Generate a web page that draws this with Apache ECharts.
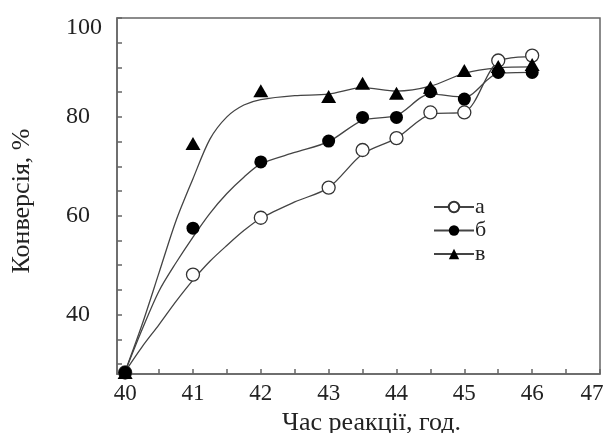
<!DOCTYPE html>
<html>
<head>
<meta charset="utf-8">
<script src="https://cdn.jsdelivr.net/npm/echarts@6/dist/echarts.min.js"></script>
<style>
html,body{margin:0;padding:0;background:#fff;}
#c{width:603px;height:433px;}
</style>
</head>
<body>
<div id="c"></div>
<script>
// measured points
const xPoints = [40, 41, 42, 43, 43.5, 44, 44.5, 45, 45.5, 46];
const seriesA = [28.3, 48.1, 59.6, 65.7, 73.3, 75.7, 80.9, 80.9, 91.4, 92.4];
const seriesB = [28.3, 57.5, 70.9, 75.1, 79.9, 79.9, 85.1, 83.6, 89.0, 89.0];
const seriesV = [28.3, 74.6, 85.3, 84.1, 86.8, 84.8, 86.0, 89.4, 90.2, 90.6];
// drawn curves
const curveX = [40, 40.25, 40.5, 40.75, 41, 41.25, 41.5, 41.75, 42, 42.5, 43, 43.5, 44, 44.5, 45, 45.5, 46];
const curveA = [28.5, 33.5, 38, 42.7, 47, 50.8, 54, 57, 59.5, 62.8, 65.7, 72.5, 75.7, 80.5, 81.0, 91.2, 92.2];
const curveB = [28.5, 37, 44.8, 50.5, 55.7, 60.5, 64.5, 67.8, 70.5, 72.8, 75, 79.3, 80.3, 84.6, 84.0, 88.8, 89.0];
const curveV = [28.5, 38, 48.5, 59, 67.5, 75.5, 80, 82.4, 83.5, 84.3, 84.6, 85.9, 85.2, 86.2, 88.8, 89.9, 90.1];
const names = ['а', 'б', 'в'];
const xLabels = [40, 41, 42, 43, 44, 45, 46, 47];
const xTicks = [40, 40.5, 41, 41.5, 42, 42.5, 43, 43.5, 44, 44.5, 45, 45.5, 46, 46.5, 47];
const yLabels = [40, 60, 80, 100];
const yTicks = [30, 35, 40, 45, 50, 55, 60, 65, 70, 75, 80, 85, 90, 95, 100];

const FONT = 'Liberation Serif';
const axisCol = '#666';
const lineCol = '#444';
const pair = (xs, ys) => xs.map((x, i) => [x, ys[i]]);

const markerStyles = [
  {symbol: 'circle', size: 13, item: {color: '#fff', borderColor: '#333', borderWidth: 1.3, opacity: 1}},
  {symbol: 'circle', size: 13, item: {color: '#000', borderColor: '#000', borderWidth: 0, opacity: 1}},
  {symbol: 'triangle', size: [15, 13], item: {color: '#000', borderColor: '#000', borderWidth: 0, opacity: 1}}
];
const curves = [curveA, curveB, curveV];
const points = [seriesA, seriesB, seriesV];

const series = [];
names.forEach((n, i) => {
  series.push({
    name: n, type: 'line', data: pair(curveX, curves[i]), smooth: 0.3,
    showSymbol: false, symbol: markerStyles[i].symbol, symbolSize: markerStyles[i].size,
    itemStyle: markerStyles[i].item,
    lineStyle: {color: lineCol, width: 1.3}, z: 2, silent: true
  });
});
names.forEach((n, i) => {
  series.push({
    name: n + '_pts', type: 'scatter', data: pair(xPoints, points[i]),
    symbol: markerStyles[i].symbol, symbolSize: markerStyles[i].size,
    itemStyle: markerStyles[i].item, z: 5 + i, clip: true
  });
});

const chart = echarts.init(document.getElementById('c'), null, {renderer: 'canvas'});
chart.setOption({
  backgroundColor: '#fff',
  animation: false,
  grid: {left: 117, right: 3, top: 18, bottom: 59, show: true, borderColor: axisCol, borderWidth: 1.5,
         backgroundColor: 'transparent', containLabel: false, outerBoundsMode: 'none'},
  legend: {
    data: names, orient: 'vertical', left: 428, top: 191, itemWidth: 40, itemHeight: 13, itemGap: 1.5,
    textStyle: {fontFamily: FONT, fontSize: 22, lineHeight: 18, color: '#222', padding: [0, 0, 0, -4]}
  },
  xAxis: {
    type: 'value', min: 39.88, max: 47,
    name: 'Час реакції, год.', nameLocation: 'middle', nameGap: 35,
    nameTextStyle: {fontFamily: FONT, fontSize: 26, color: '#222', padding: [0, 0, 0, 26]},
    axisLine: {lineStyle: {color: axisCol, width: 1.5}},
    axisTick: {inside: true, length: 5, customValues: xTicks, lineStyle: {color: axisCol, width: 1.5}},
    axisLabel: {
      customValues: xLabels, fontFamily: FONT, fontSize: 23, color: '#222', margin: 8,
      formatter: v => v === 47 ? '{r|' + v + '}' : String(v),
      rich: {r: {fontFamily: FONT, fontSize: 23, color: '#222', padding: [0, 16, 0, 0]}}
    },
    splitLine: {show: false}
  },
  yAxis: {
    type: 'value', min: 28, max: 100,
    name: 'Конверсія, %', nameLocation: 'middle', nameGap: 82,
    nameTextStyle: {fontFamily: FONT, fontSize: 26, color: '#222', padding: [0, 10, 0, 0]},
    axisLine: {lineStyle: {color: axisCol, width: 1.5}},
    axisTick: {inside: true, length: 5, customValues: yTicks, lineStyle: {color: axisCol, width: 1.5}},
    axisLabel: {
      customValues: yLabels, fontFamily: FONT, fontSize: 24, color: '#222', align: 'left', margin: 51,
      formatter: v => v === 100 ? '{top|' + v + '}' : String(v),
      rich: {top: {fontFamily: FONT, fontSize: 24, color: '#222', padding: [20, 0, 0, 0]}}
    },
    splitLine: {show: false}
  },
  series: series
});
</script>
</body>
</html>
